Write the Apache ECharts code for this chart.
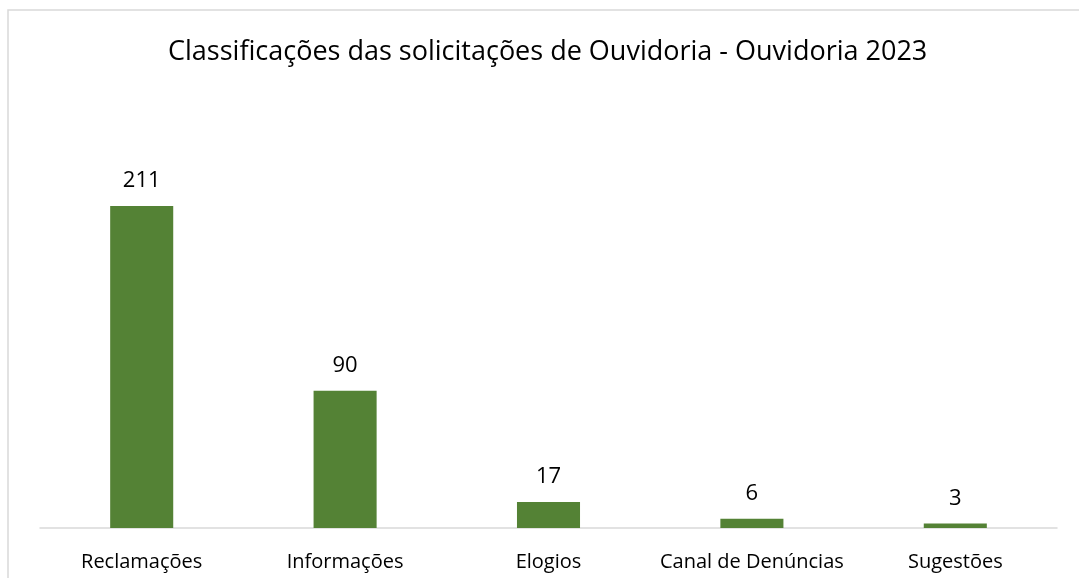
<!DOCTYPE html>
<html>
<head>
<meta charset="utf-8">
<script src="https://cdn.jsdelivr.net/npm/echarts@6/dist/echarts.min.js"></script>
<style>
  html, body { margin: 0; padding: 0; background: #fff; }
  #chart { width: 1079px; height: 578px; }
</style>
</head>
<body>
<div id="chart"></div>
<script>
const categories = ["Reclamações", "Informações", "Elogios", "Canal de Denúncias", "Sugestões"];
const values = [211, 90, 17, 6, 3];

const chart = echarts.init(document.getElementById("chart"));

const option = {
  backgroundColor: "#fff",
  animation: false,
  title: {
    text: "Classificações das solicitações de Ouvidoria - Ouvidoria 2023",
    left: 163,
    top: 34,
    textStyle: {
      fontFamily: "Open Sans",
      fontSize: 27,
      fontWeight: "normal",
      color: "#000",
    },
  },
  graphic: [
    {
      type: "rect",
      shape: { x: 8, y: 10, width: 1100, height: 600 },
      style: { fill: "none", stroke: "#d9d9d9", lineWidth: 1.5 },
      silent: true,
    },
  ],
  grid: {
    left: 40,
    right: 22,
    top: 146.5,
    bottom: 50,
    containLabel: false,
  },
  xAxis: {
    type: "category",
    data: categories,
    axisLine: { lineStyle: { color: "#d9d9d9", width: 1.5 } },
    axisTick: { show: false },
    axisLabel: {
      interval: 0,
      color: "#000",
      fontFamily: "Open Sans",
      fontSize: 20,
      margin: 24,
    },
  },
  yAxis: {
    type: "value",
    min: 0,
    max: 250,
    show: false,
  },
  series: [
    {
      type: "bar",
      data: values,
      barWidth: "31%",
      itemStyle: { color: "#548235" },
      label: {
        show: true,
        position: "top",
        distance: 14,
        color: "#000",
        fontFamily: "Open Sans",
        fontSize: 22,
      },
    },
  ],
};

chart.setOption(option);
</script>
</body>
</html>
